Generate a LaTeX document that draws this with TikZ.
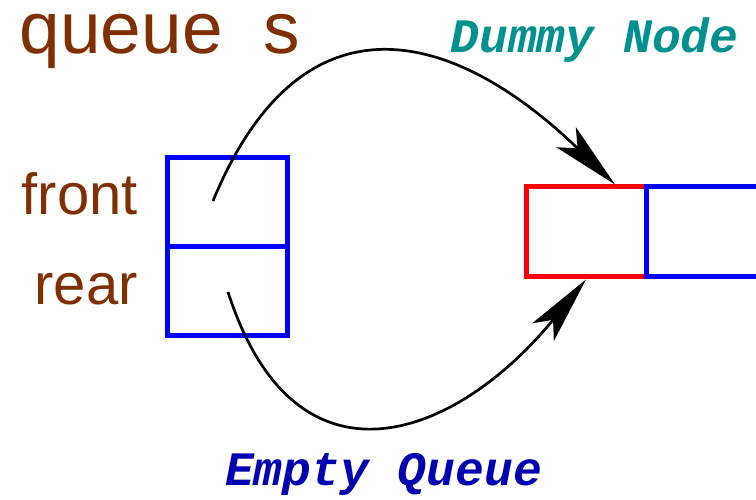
\documentclass[tikz,border=0pt]{standalone}
\usepackage{fontspec}
\setmainfont{Liberation Sans}
\newfontfamily\monof{Liberation Mono}
\usetikzlibrary{arrows.meta,calc}
\definecolor{brownfig}{HTML}{803000}
\definecolor{tealfig}{HTML}{009090}
\definecolor{navyfig}{HTML}{0000B0}
\begin{document}
\begin{tikzpicture}[x=1pt,y=1pt,
  cellbox/.style={draw=blue, line width=5pt, minimum width=120pt, minimum height=89pt, inner sep=0pt},
  dummybox/.style={draw=red, line width=5pt, minimum width=120pt, minimum height=90pt, inner sep=0pt},
  nextbox/.style={draw=blue, line width=5pt, minimum width=120pt, minimum height=90pt, inner sep=0pt},
  biglbl/.style={inner sep=0pt, text=brownfig, font=\fontsize{58}{64}\selectfont},
  codelbl/.style={inner sep=0pt, font=\monof\bfseries\itshape\fontsize{48}{52}\selectfont},
  conn/.style={draw=black, line width=2.7pt, -{Stealth[length=68pt, width=28pt, inset=16pt]}}
]
\useasboundingbox (0,0) rectangle (756,499);
\clip (0,0) rectangle (756,499);

\node[inner sep=0pt, anchor=base west, text=brownfig, text height=40pt, text depth=14pt, font=\fontsize{73}{80}\selectfont] (title) at (19.5,445.7) {queue\hspace{41pt}s};

\node[cellbox] (frontcell) at (227.5,297) {};
\node[cellbox] (rearcell) at (227.5,208) {};
\node[biglbl, anchor=base east] (frontlbl) at (138,284) {front};
\node[biglbl, anchor=base east] (rearlbl) at (138,194) {rear};

\node[dummybox] (dummy) at (586,267) {};
\node[nextbox] (next) at (706,267) {};

\node[codelbl, text=tealfig, anchor=base] (dummylbl) at (594.5,446) {Dummy Node};
\node[codelbl, text=navyfig, anchor=base] (emptylbl) at (383.5,14) {Empty Queue};

\coordinate (f0) at ($(frontcell.center)+(-14.5,1)$);
\coordinate (r0) at ($(rearcell.center)+(0.5,-1)$);
\coordinate (dtop) at ($(dummy.north)+(29,0)$);

\draw[conn] (f0) .. controls (300,509) and (450,474) .. (dtop);
\draw[conn] (r0) .. controls (295,-1) and (455,59) .. (dummy.south);
\end{tikzpicture}
\end{document}
